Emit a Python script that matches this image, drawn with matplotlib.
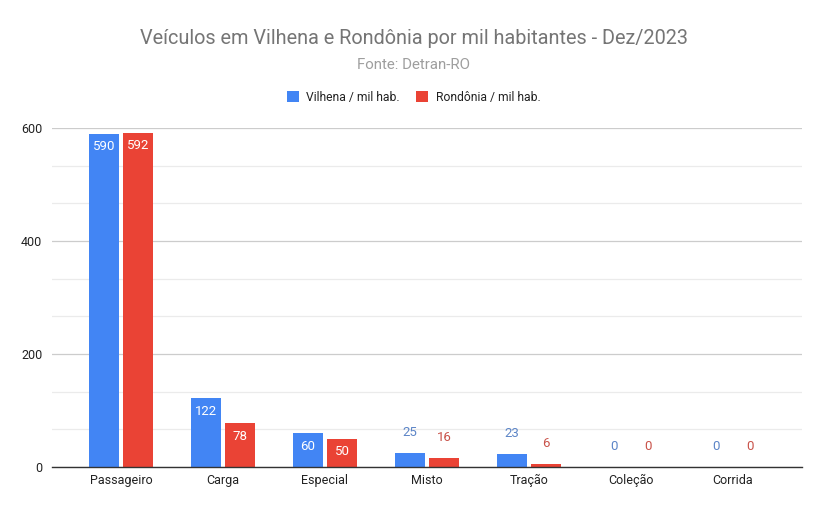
import matplotlib.pyplot as plt
import numpy as np
from matplotlib.patches import Patch
from matplotlib.ticker import MultipleLocator

plt.rcParams["font.family"] = ["Roboto", "DejaVu Sans"]

# ----------------------------------------
# 데이터
# ----------------------------------------
categories = ["Passageiro", "Carga", "Especial", "Misto", "Tração", "Coleção", "Corrida"]
vilhena = [590, 122, 60, 25, 23, 0, 0]
rondonia = [592, 78, 50, 16, 6, 0, 0]
series_names = ["Vilhena / mil hab.", "Rondônia / mil hab."]

BLUE = "#4285F4"
RED = "#EA4335"
BLUE_TXT = "#5C85C7"
RED_TXT = "#C9534A"

fig = plt.figure(figsize=(8.27, 5.13), dpi=100)
ax = fig.add_axes([52 / 827, 46 / 513, 750 / 827, 339 / 513])

x = np.arange(len(categories))
w = 0.3
off = 0.167

bars_v = ax.bar(x - off, vilhena, width=w, color=BLUE, zorder=3)
bars_r = ax.bar(x + off, rondonia, width=w, color=RED, zorder=3)


def _label(bars, values, txt_color):
    for b, v in zip(bars, values):
        cx = b.get_x() + b.get_width() / 2
        if v >= 40:
            ax.annotate(str(v), (cx, v), xytext=(0, -9.5), textcoords="offset points",
                        ha="center", va="center", color="white", fontsize=9.5, zorder=4)
        else:
            ax.annotate(str(v), (cx, v), xytext=(0, 14.5), textcoords="offset points",
                        ha="center", va="center", color=txt_color, fontsize=9.5, zorder=4)


_label(bars_v, vilhena, BLUE_TXT)
_label(bars_r, rondonia, RED_TXT)

ax.set_xlim(-0.676, 6.676)
ax.set_ylim(0, 600)
ax.set_xticks(x)
ax.set_xticklabels(categories, fontsize=9, color="#222222")
ax.yaxis.set_major_locator(MultipleLocator(200))
ax.yaxis.set_minor_locator(MultipleLocator(200 / 3))
ax.tick_params(axis="y", labelsize=9, colors="#222222", length=0, pad=7)
ax.tick_params(axis="y", which="minor", length=0)
ax.tick_params(axis="x", length=0, pad=5)
ax.grid(axis="y", which="major", color="#cccccc", linewidth=0.9, zorder=0)
ax.grid(axis="y", which="minor", color="#ebebeb", linewidth=0.9, zorder=0)
for s in ["top", "right", "left"]:
    ax.spines[s].set_visible(False)
ax.spines["bottom"].set_color("#333333")
ax.spines["bottom"].set_linewidth(1.0)
ax.spines["bottom"].set_zorder(5)

fig.text(0.5, 1 - 38 / 513, "Veículos em Vilhena e Rondônia por mil habitantes - Dez/2023",
         ha="center", va="center", fontsize=14.3, color="#757575")
fig.text(0.5, 1 - 65 / 513, "Fonte: Detran-RO", ha="center", va="center",
         fontsize=10.8, color="#9e9e9e")

handles = [Patch(facecolor=BLUE), Patch(facecolor=RED)]
fig.legend(handles, series_names, loc="center", bbox_to_anchor=(0.5, 1 - 97 / 513),
           ncol=2, frameon=False, fontsize=8.7, handlelength=1.0, handleheight=1.0,
           handletextpad=0.6, columnspacing=1.4, labelcolor="#222222")

fig.savefig("out.png", dpi=100, facecolor="white")
